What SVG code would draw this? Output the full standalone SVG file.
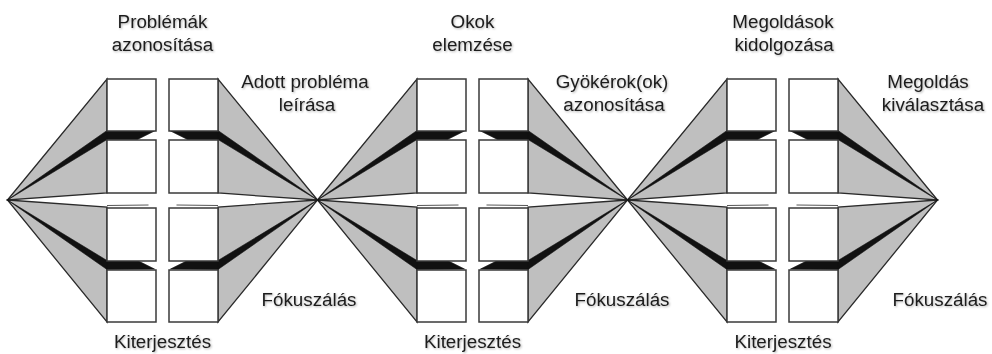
<svg xmlns="http://www.w3.org/2000/svg" xmlns:xlink="http://www.w3.org/1999/xlink" width="992" height="354" viewBox="0 0 992 354">
<style>
.gray{fill:#bfbfbf;stroke:#2a2a2a;stroke-width:1.3;stroke-linejoin:miter}
.blk{fill:#111;stroke:#111;stroke-width:0.6}
.box{fill:#fff;stroke:#3a3a3a;stroke-width:1.5}
.thin{fill:none;stroke:#444;stroke-width:0.9}
.t{font-family:"Liberation Sans",Arial,sans-serif;font-size:18.8px;fill:#1c1c1c;text-anchor:middle;filter:url(#sh)}
</style>
<defs>
<filter id="sh" x="-10%" y="-30%" width="120%" height="160%">
<feDropShadow dx="1" dy="1" stdDeviation="0.8" flood-color="#000" flood-opacity="0.3"/>
</filter>
<g id="half">
<polygon class="gray" points="-155,200 -55.5,79 -55.5,193"/>
<polygon class="gray" points="-155,200 -55.5,207 -55.5,322"/>
<polygon class="blk" points="-155,200 -55.5,130.5 -55.5,139.5"/>
<polygon class="blk" points="-55.5,131 -8,131 -25,139.5 -55.5,139.5"/>
<polygon class="blk" points="-155,200 -55.5,260.5 -55.5,269.5"/>
<polygon class="blk" points="-55.5,260.5 -25,260.5 -8,269 -55.5,269.5"/>
<line class="thin" x1="-55.5" y1="205.5" x2="-14" y2="205"/>
<rect class="box" x="-55.5" y="79" width="49" height="52"/>
<rect class="box" x="-55.5" y="140" width="49" height="53"/>
<rect class="box" x="-55.5" y="208" width="49" height="53"/>
<rect class="box" x="-55.5" y="270" width="49" height="52"/>
</g>
<g id="diamond">
<use xlink:href="#half"/>
<use xlink:href="#half" transform="scale(-1,1)"/>
</g>
</defs>
<rect width="992" height="354" fill="#fff"/>
<g id="diamond1" transform="translate(162.5,0)"><use xlink:href="#diamond"/></g>
<g id="diamond2" transform="translate(472.5,0)"><use xlink:href="#diamond"/></g>
<g id="diamond3" transform="translate(782.5,0)"><use xlink:href="#diamond"/></g>
<g id="labels">
<text class="t" x="162.5" y="28">Problémák</text>
<text class="t" x="162.5" y="51">azonosítása</text>
<text class="t" x="472.5" y="28">Okok</text>
<text class="t" x="472.5" y="51">elemzése</text>
<text class="t" x="783" y="28">Megoldások</text>
<text class="t" x="784" y="51">kidolgozása</text>
<text class="t" x="305" y="88">Adott probléma</text>
<text class="t" x="307" y="111">leírása</text>
<text class="t" x="612" y="88">Gyökérok(ok)</text>
<text class="t" x="614" y="111">azonosítása</text>
<text class="t" x="928" y="88">Megoldás</text>
<text class="t" x="933" y="111">kiválasztása</text>
<text class="t" x="309" y="306">Fókuszálás</text>
<text class="t" x="622" y="306">Fókuszálás</text>
<text class="t" x="940" y="306">Fókuszálás</text>
<text class="t" x="162.5" y="348">Kiterjesztés</text>
<text class="t" x="472.5" y="348">Kiterjesztés</text>
<text class="t" x="783" y="348">Kiterjesztés</text>
</g>
</svg>
